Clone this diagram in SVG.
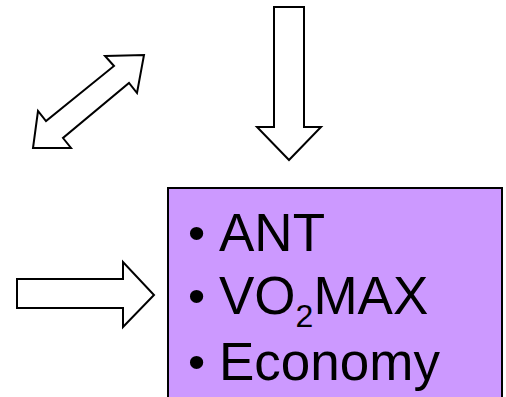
<svg xmlns="http://www.w3.org/2000/svg" width="506" height="397" viewBox="0 0 506 397">
<style>
.arrow{fill:#ffffff;stroke:#000000;stroke-width:2;stroke-linejoin:miter}
.t{font-family:"Liberation Sans",Arial,sans-serif;font-size:53px;fill:#000000}
.b{font-family:"Liberation Sans",Arial,sans-serif;font-size:49px;fill:#000000}
.sub{font-size:32px}
</style>
<rect width="506" height="397" fill="#ffffff"/>
<g id="connectors">
<polygon id="diag" class="arrow" points="105,56 144,55 137,93 129,83 63,138 71,148 33,148 38,111 46,121 114,66"/>
<polygon id="down" class="arrow" points="274,7 304,7 304,127 321,127 289,160 257,127 274,127"/>
<polygon id="right" class="arrow" points="17,279 123,279 123,262 154,295 123,327 123,308 17,308"/>
</g>
<g id="box">
<rect x="168" y="188" width="334" height="215" fill="#cc99ff" stroke="#000000" stroke-width="2"/>
<text class="b" x="188" y="249">•</text>
<text class="t" x="219" y="251">ANT</text>
<text class="b" x="188" y="312">•</text>
<text class="t" x="219" y="314">VO<tspan class="sub" dy="13">2</tspan><tspan dy="-13">MAX</tspan></text>
<text class="b" x="188" y="378">•</text>
<text class="t" x="219" y="380">Economy</text>
</g>
</svg>
